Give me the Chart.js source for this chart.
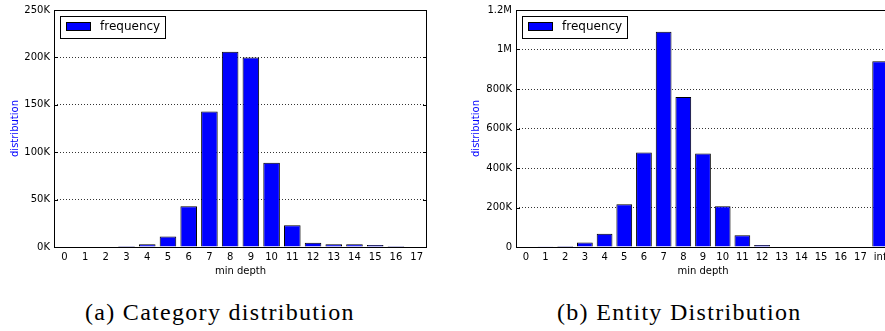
<!DOCTYPE html>
<html>
<head>
<meta charset="utf-8">
<script src="https://cdn.jsdelivr.net/npm/chart.js@4.4.1/dist/chart.umd.min.js"></script>
<style>
body { margin: 0; width: 885px; height: 331px; overflow: hidden; background: #fff; position: relative; }
canvas { position: absolute; top: 0; }
#chartA { left: 0; }
#chartB { left: 445px; }
.cap { position: absolute; top: 299px; font-family: "Liberation Serif", serif; font-size: 24px; letter-spacing: 1.3px; white-space: nowrap; color: #000; }
</style>
</head>
<body>
<canvas id="chartA" width="440" height="280"></canvas>
<canvas id="chartB" width="460" height="280"></canvas>
<div class="cap" style="left:85px">(a) Category distribution</div>
<div class="cap" style="left:557px">(b) Entity Distribution</div>
<script>
// data
var depthLabels = ['0','1','2','3','4','5','6','7','8','9','10','11','12','13','14','15','16','17'];
var entityLabels = ['0','1','2','3','4','5','6','7','8','9','10','11','12','13','14','15','16','17','inf'];
var categoryFreq = [0, 0, 500, 1000, 3000, 11000, 43000, 143000, 206000, 200000, 89000, 23000, 4500, 3000, 3000, 2000, 1000, 500];
var entityFreq = [0, 1000, 5000, 23000, 67000, 216000, 478000, 1090000, 760000, 473000, 206000, 60000, 10000, 3000, 3000, 3000, 3000, 3000, 941000];
var categoryTicks = ['0K','50K','100K','150K','200K','250K'];
var entityTicks = ['0','200K','400K','600K','800K','1M','1.2M'];

var frame = {
    id: 'frame',
    afterDraw: function(chart) {
        var ctx = chart.ctx;
        var a = chart.chartArea;
        var y = chart.scales.y;
        ctx.save();
        ctx.strokeStyle = '#000';
        ctx.lineWidth = 1;
        ctx.strokeRect(a.left + 0.5, a.top + 0.5, a.right - a.left - 1, a.bottom - a.top);
        // inward ticks, matplotlib classic
        ctx.beginPath();
        y.ticks.forEach(function(t) {
            var py = Math.round(y.getPixelForValue(t.value)) + 0.5;
            ctx.moveTo(a.left, py); ctx.lineTo(a.left + 4, py);
            ctx.moveTo(a.right, py); ctx.lineTo(a.right - 4, py);
        });
        ctx.stroke();
        // legend box in the top left corner
        var ds = chart.data.datasets[0];
        var lx = a.left + 6, ly = a.top + 6;
        ctx.fillStyle = '#fff';
        ctx.fillRect(lx, ly, 105, 22);
        ctx.strokeRect(lx + 0.5, ly + 0.5, 105, 22);
        ctx.fillStyle = ds.backgroundColor;
        ctx.fillRect(lx + 6, ly + 6, 24, 8);
        ctx.strokeRect(lx + 6.5, ly + 6.5, 24, 8);
        ctx.fillStyle = '#000';
        ctx.font = '12px "DejaVu Sans"';
        ctx.textBaseline = 'middle';
        ctx.fillText(ds.label, lx + 40, ly + 11);
        ctx.restore();
    }
};

function drawChart(id, labels, values, yMax, yStep, tickText, yWidth, rightPad, titlePad)
{
    var ctx = document.getElementById(id);
    return new Chart(ctx, {
        type: 'bar',
        data: {
            labels: labels,
            datasets: [{
                label: 'frequency',
                data: values,
                backgroundColor: '#0000ff',
                borderColor: '#000',
                borderWidth: 1,
                barPercentage: 0.8,
                categoryPercentage: 1
            }]
        },
        options: {
            responsive: false,
            animation: false,
            devicePixelRatio: 1,
            layout: { padding: { top: 9, right: rightPad, left: 0, bottom: 0 } },
            plugins: { legend: { display: false }, tooltip: { enabled: false } },
            scales: {
                x: {
                    grid: { display: false, drawTicks: false },
                    border: { display: false },
                    ticks: { color: '#000', font: { family: 'DejaVu Sans', size: 10 }, padding: 4, maxRotation: 0, autoSkip: false },
                    title: { display: true, text: 'min depth', color: '#000', font: { family: 'DejaVu Sans', size: 10 }, padding: { top: 0, bottom: 3 } },
                    afterFit: function(s) { s.height = 33; }
                },
                y: {
                    min: 0,
                    max: yMax,
                    border: { display: false, dash: [1, 2] },
                    grid: { color: '#000', lineWidth: 0.8, drawTicks: false },
                    ticks: {
                        stepSize: yStep,
                        color: '#000',
                        font: { family: 'DejaVu Sans', size: 10 },
                        padding: 4,
                        callback: function(v, i) { return tickText[i]; }
                    },
                    title: { display: true, text: 'distribution', color: '#0000ff', font: { family: 'DejaVu Sans', size: 10 }, padding: { top: titlePad, bottom: 0 } },
                    afterFit: function(s) { s.width = yWidth; }
                }
            }
        },
        plugins: [frame]
    });
}

drawChart('chartA', depthLabels, categoryFreq, 250000, 50000, categoryTicks, 54, 13, 9);
drawChart('chartB', entityLabels, entityFreq, 1200000, 200000, entityTicks, 71, 15, 25);
</script>
</body>
</html>
